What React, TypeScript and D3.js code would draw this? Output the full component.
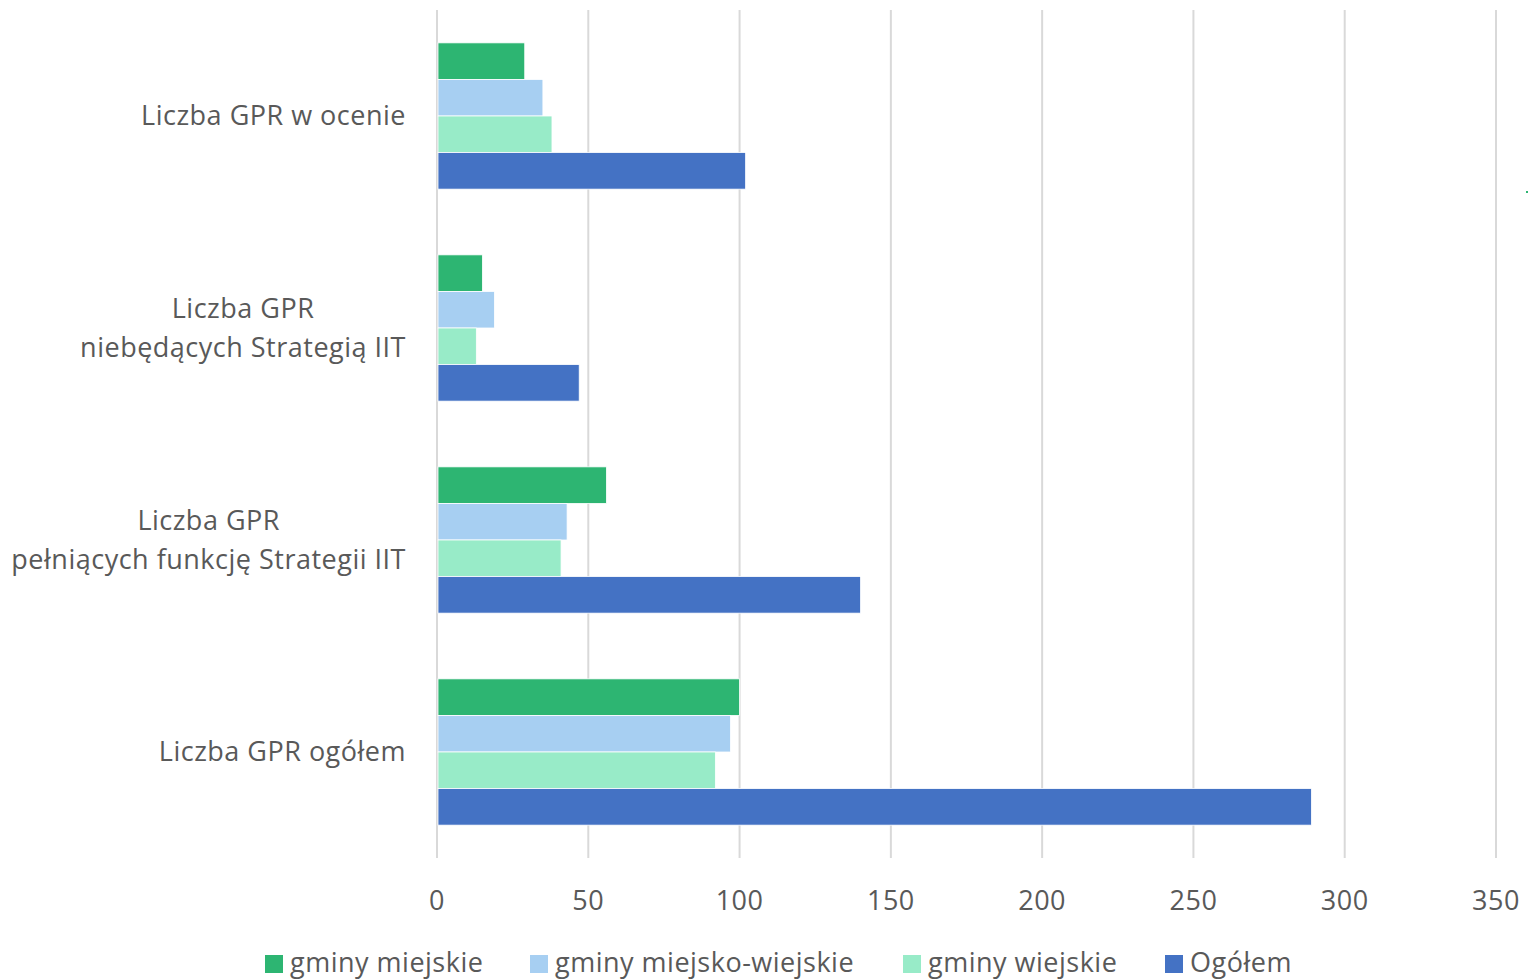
import React, { useEffect, useRef } from 'react'
import * as d3 from 'd3'

const categories = [
    'Liczba GPR w ocenie',
    'Liczba GPR\nniebędących Strategią IIT',
    'Liczba GPR\npełniących funkcję Strategii IIT',
    'Liczba GPR ogółem',
]
const seriesNames = ['gminy miejskie', 'gminy miejsko-wiejskie', 'gminy wiejskie', 'Ogółem']
const seriesColors = ['#2db572', '#a7cff2', '#98ebc8', '#4472c4']
const miejskie = [29, 15, 56, 100]
const miejskoWiejskie = [35, 19, 43, 97]
const wiejskie = [38, 13, 41, 92]
const ogolem = [102, 47, 140, 289]
const xTicks = [0, 50, 100, 150, 200, 250, 300, 350]

const W = 1529
const H = 979
const margin = { top: 10, right: 33, bottom: 121, left: 437 }
const FONT = '"Open Sans", Lato, sans-serif'
const FS = 27
const LS = 0.5

function App() {
    const ref = useRef<SVGSVGElement>(null)

    useEffect(() => {
        const svg = d3.select(ref.current)
        svg.selectAll('*').remove()

        const innerWidth = W - margin.left - margin.right
        const innerHeight = H - margin.top - margin.bottom
        const values = [miejskie, miejskoWiejskie, wiejskie, ogolem]

        const x = d3.scaleLinear().domain([0, 350]).range([0, innerWidth])
        const y = d3.scaleBand<string>().domain(categories).range([0, innerHeight]).paddingInner(0.31).paddingOuter(0.155)
        const ySub = d3.scaleBand<number>().domain(d3.range(seriesNames.length)).range([0, y.bandwidth()])

        const g = svg.append('g').attr('transform', `translate(${margin.left},${margin.top})`)

        // gridlines
        g.selectAll('.grid')
            .data(xTicks)
            .join('line')
            .attr('x1', d => x(d)).attr('x2', d => x(d))
            .attr('y1', 0).attr('y2', innerHeight)
            .attr('stroke', '#d9d9d9')
            .attr('stroke-width', 2)

        // tick labels
        g.selectAll('.tick')
            .data(xTicks)
            .join('text')
            .attr('x', d => x(d))
            .attr('y', innerHeight + 52)
            .attr('text-anchor', 'middle')
            .attr('font-family', FONT)
            .attr('font-size', FS)
            .attr('letter-spacing', LS)
            .attr('fill', '#595959')
            .text(d => d)

        // bars
        categories.forEach((c, ci) => {
            values.forEach((vals, si) => {
                g.append('rect')
                    .attr('x', x(0) + 1)
                    .attr('y', (y(c) ?? 0) + (ySub(si) ?? 0))
                    .attr('width', x(vals[ci]) - x(0) - 1)
                    .attr('height', ySub.bandwidth())
                    .attr('fill', seriesColors[si])
                    .attr('stroke', '#ffffff')
                    .attr('stroke-width', 0.8)
            })
        })

        // category labels, multi-line centered block aligned right
        categories.forEach(c => {
            const lines = c.split('\n')
            const cy = (y(c) ?? 0) + y.bandwidth() / 2
            const lh = 39
            const t = g.append('text')
                .attr('font-family', FONT)
                .attr('font-size', FS)
                .attr('letter-spacing', LS)
                .attr('fill', '#595959')
                .attr('text-anchor', 'end')
            const spans = lines.map((l, i) => t.append('tspan')
                .attr('x', -31)
                .attr('y', cy + 9 + (i - (lines.length - 1) / 2) * lh)
                .text(l))
            const widths = spans.map(s => (s.node() as SVGTSpanElement).getComputedTextLength())
            const maxW = d3.max(widths) ?? 0
            t.attr('text-anchor', 'middle')
            spans.forEach(s => s.attr('x', -31 - maxW / 2))
        })

        // legend
        const legendX = [265, 530, 903, 1165]
        const lg = svg.append('g')
        seriesNames.forEach((s, i) => {
            lg.append('rect')
                .attr('x', legendX[i]).attr('y', 955)
                .attr('width', 18).attr('height', 18)
                .attr('fill', seriesColors[i])
            lg.append('text')
                .attr('x', legendX[i] + 25).attr('y', 972)
                .attr('font-family', FONT)
                .attr('font-size', FS)
                .attr('letter-spacing', LS)
                .attr('fill', '#595959')
                .text(s)
        })

        // small stray mark at right edge
        svg.append('rect').attr('x', 1526).attr('y', 191).attr('width', 2).attr('height', 2).attr('fill', '#2db572')
    }, [])

    return <svg ref={ref} width={W} height={H} style={{ position: 'absolute', left: 0, top: 0, background: '#fff' }} />
}

export default App
